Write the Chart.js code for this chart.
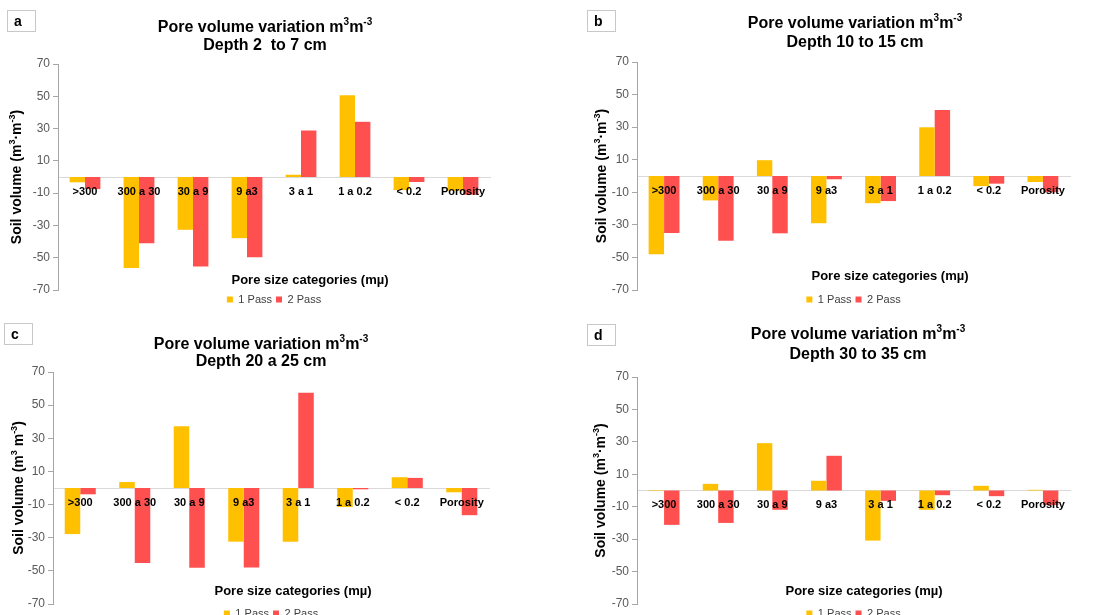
<!DOCTYPE html>
<html>
<head>
<meta charset="utf-8">
<script src="https://cdn.jsdelivr.net/npm/chart.js@4.4.1/dist/chart.umd.min.js"></script>
<style>
    body { margin: 0; background: #fff; width: 1102px; height: 615px; overflow: hidden; position: relative; font-family: "Liberation Sans", Arial, sans-serif; }
    canvas { position: absolute; }
    .tag { position: absolute; width: 29px; height: 22px; border: 1px solid #c8c8c8; box-sizing: border-box; font-weight: bold; font-size: 14px; line-height: 20px; padding-left: 6px; color: #000; }
</style>
</head>
<body>
<canvas id="chartA" width="550" height="310" style="left:0;top:0"></canvas>
<canvas id="chartB" width="552" height="310" style="left:550px;top:0"></canvas>
<canvas id="chartC" width="550" height="305" style="left:0;top:310px"></canvas>
<canvas id="chartD" width="552" height="305" style="left:550px;top:310px"></canvas>
<div class="tag" style="left:7px;top:10px">a</div>
<div class="tag" style="left:587px;top:10px">b</div>
<div class="tag" style="left:4px;top:323px">c</div>
<div class="tag" style="left:587px;top:324px">d</div>
<script>
// Pore size categories (mµ)
const categories = ['>300', '300 a 30', '30 a 9', '9 a3', '3 a 1', '1 a 0.2', '< 0.2', 'Porosity'];
const seriesNames = ['1 Pass', '2 Pass'];
const yTicks = [-70, -50, -30, -10, 10, 30, 50, 70];

// values, one pair per depth
const depthA1 = [-3.3, -56.3, -32.7, -37.9, 1.4, 50.7, -8.1, -8.5];
const depthA2 = [-7.5, -41, -55.5, -49.7, 28.8, 34.2, -3.1, -11];
const depthB1 = [-48, -15, 9.7, -29, -16.7, 29.9, -6.2, -3.7];
const depthB2 = [-35, -39.7, -35.2, -2, -15.4, 40.6, -4.7, -10];
const depthC1 = [-27.8, 3.6, 37.3, -32.4, -32.4, -11.5, 6.5, -2.6];
const depthC2 = [-3.8, -45.2, -48.2, -48, 57.5, -0.8, 6.1, -16.4];
const depthD1 = [0.3, 4.1, 29.2, 6, -30.9, -11.9, 2.9, 0.4];
const depthD2 = [-21.2, -20, -11.9, 21.4, -6.4, -2.9, -3.5, -9];

const FONT = "'Liberation Sans', Arial, sans-serif";
const colors = ['#FFC000', '#FF5050'];

// draw text with superscript parts (array entries are superscripts)
function richWidth(ctx, parts, size) {
    let w = 0;
    parts.forEach(p => {
        const sup = Array.isArray(p);
        ctx.font = `bold ${sup ? Math.round(size * 0.62) : size}px ${FONT}`;
        w += ctx.measureText(sup ? p[0] : p).width;
    });
    return w;
}

function drawRich(ctx, parts, cx, cy, size) {
    let x = cx - richWidth(ctx, parts, size) / 2;
    ctx.textAlign = 'left';
    ctx.textBaseline = 'middle';
    parts.forEach(p => {
        const sup = Array.isArray(p);
        const txt = sup ? p[0] : p;
        ctx.font = `bold ${sup ? Math.round(size * 0.62) : size}px ${FONT}`;
        ctx.fillText(txt, x, sup ? cy - size * 0.35 : cy);
        x += ctx.measureText(txt).width;
    });
}

const panelText = {
    id: 'panelText',
    afterDraw(chart, args, o) {
        const { ctx, chartArea } = chart;
        ctx.save();
        ctx.fillStyle = '#000';
        drawRich(ctx, ['Pore volume variation m', ['3'], 'm', ['-3']], o.titleX, o.titleY[0], 16);
        drawRich(ctx, [o.depth], o.titleX, o.titleY[1], 16);
        drawRich(ctx, ['Pore size categories (mµ)'], o.xTitle[0], o.xTitle[1], 13);
        ctx.translate(o.yTitleX, (chartArea.top + chartArea.bottom) / 2);
        ctx.rotate(-Math.PI / 2);
        drawRich(ctx, o.yTitle, 0, 0, 14);
        ctx.restore();
    }
};

function makeChart(id, pass1, pass2, box, text) {
    const canvas = document.getElementById(id);
    return new Chart(canvas, {
        type: 'bar',
        data: {
            labels: categories,
            datasets: [
                { label: seriesNames[0], data: pass1, backgroundColor: colors[0] },
                { label: seriesNames[1], data: pass2, backgroundColor: colors[1] }
            ]
        },
        options: {
            responsive: false,
            animation: false,
            events: [],
            categoryPercentage: 0.57,
            barPercentage: 1.0,
            layout: {
                padding: { left: 0, top: box.top, right: canvas.width - box.right, bottom: box.padBottom }
            },
            scales: {
                x: {
                    position: { y: 0 },
                    grid: { display: false, drawTicks: false },
                    border: { color: '#d9d9d9', width: 1 },
                    ticks: {
                        z: 1,
                        color: '#000',
                        padding: 8,
                        autoSkip: false,
                        maxRotation: 0,
                        font: { family: FONT, size: 11, weight: 'bold' }
                    }
                },
                y: {
                    min: -70,
                    max: 70,
                    afterFit: (scale) => { scale.width = box.axisX; },
                    afterBuildTicks: (scale) => { scale.ticks = yTicks.map(v => ({ value: v })); },
                    grid: { drawOnChartArea: false, tickLength: 5, color: '#a6a6a6' },
                    border: { color: '#a6a6a6' },
                    ticks: { color: '#595959', padding: 3, font: { family: FONT, size: 12 } }
                }
            },
            plugins: {
                title: { display: false },
                tooltip: { enabled: false },
                legend: {
                    position: 'bottom',
                    fullSize: false,
                    labels: {
                        boxWidth: 6,
                        boxHeight: 6,
                        padding: 4,
                        color: '#404040',
                        font: { family: FONT, size: 11 }
                    }
                },
                panelText: text
            }
        },
        plugins: [panelText]
    });
}

const yTitleDot = ['Soil volume (m', ['3'], '·m', ['-3'], ')'];
const yTitleSpace = ['Soil volume (m', ['3'], ' m', ['-3'], ')'];

makeChart('chartA', depthA1, depthA2,
    { axisX: 58, right: 490, top: 64, padBottom: -5 },
    { depth: 'Depth 2  to 7 cm', titleX: 265, titleY: [28, 46], xTitle: [310, 280], yTitleX: 17, yTitle: yTitleDot });
makeChart('chartB', depthB1, depthB2,
    { axisX: 87, right: 520, top: 62, padBottom: -5 },
    { depth: 'Depth 10 to 15 cm', titleX: 305, titleY: [24, 43], xTitle: [340, 276], yTitleX: 52, yTitle: yTitleDot });
makeChart('chartC', depthC1, depthC2,
    { axisX: 53, right: 489, top: 62, padBottom: -14 },
    { depth: 'Depth 20 a 25 cm', titleX: 261, titleY: [35, 52], xTitle: [293, 281], yTitleX: 19, yTitle: yTitleSpace });
makeChart('chartD', depthD1, depthD2,
    { axisX: 87, right: 520, top: 67, padBottom: -14 },
    { depth: 'Depth 30 to 35 cm', titleX: 308, titleY: [25, 45], xTitle: [314, 281], yTitleX: 51, yTitle: yTitleDot });
</script>
</body>
</html>
